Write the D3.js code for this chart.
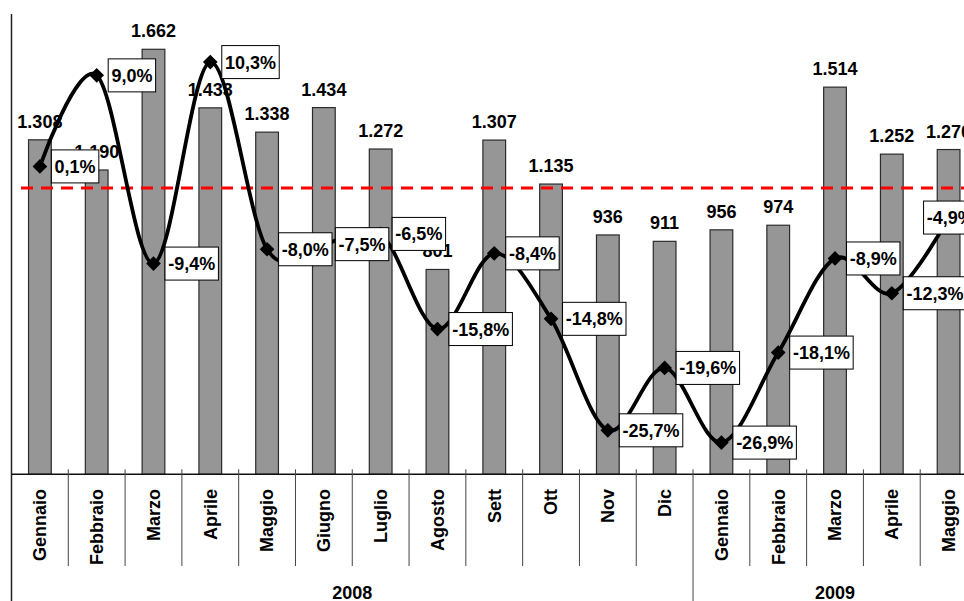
<!DOCTYPE html>
<html lang="it">
<head>
<meta charset="utf-8">
<title>Vendite mensili 2008–2009</title>
<script src="https://cdn.jsdelivr.net/npm/d3@7"></script>
<style>
  html, body { margin: 0; padding: 0; background: #fff; }
  svg { display: block; font-family: "Liberation Sans", Arial, sans-serif; font-weight: bold; }
</style>
</head>
<body>
<svg id="chart" width="964" height="601"></svg>
<script>
// Monthly categories, grouped by year
const months = ["Gennaio", "Febbraio", "Marzo", "Aprile", "Maggio", "Giugno", "Luglio",
                "Agosto", "Sett", "Ott", "Nov", "Dic",
                "Gennaio", "Febbraio", "Marzo", "Aprile", "Maggio"];
const yearLabels = ["2008", "2009"];
const monthsPerYear = [12, 5];

// Monthly volumes (bars, left axis)
const sales = [1308, 1190, 1662, 1433, 1338, 1434, 1272, 801, 1307, 1135, 936, 911,
               956, 974, 1514, 1252, 1270];

// Year-on-year change in % (smoothed line, right axis)
const change = [0.1, 9.0, -9.4, 10.3, -8.0, -7.5, -6.5, -15.8, -8.4, -14.8, -25.7, -19.6,
                -26.9, -18.1, -8.9, -12.3, -4.9];

// Reference level drawn as dashed red line (left axis units)
const referenceLevel = 1120;

// Axis extents
const salesDomain = [0, 1800];
const changeDomain = [-30, 15];

const it = d3.formatLocale({ decimal: ",", thousands: ".", grouping: [3], currency: ["€", ""], minus: "-" });
const fmtSales = it.format(",d");
const fmtPct = v => it.format(".1f")(v) + "%";

const svg = d3.select("#chart");
const plot = { left: 11.5, right: 977, top: 14, bottom: 474.3 };

const x = d3.scaleBand()
  .domain(d3.range(months.length))
  .range([plot.left, plot.right])
  .padding(0);
const step = x.step();
const barW = step * 0.4;
const cx = i => x(i) + step / 2;

const y = d3.scaleLinear().domain(salesDomain).range([plot.bottom, plot.top]);
const y2 = d3.scaleLinear().domain(changeDomain).range([plot.bottom, plot.top]);

// Bars
svg.append("g").selectAll("rect")
  .data(sales)
  .join("rect")
  .attr("x", (d, i) => cx(i) - barW / 2)
  .attr("y", d => y(d))
  .attr("width", barW)
  .attr("height", d => y(0) - y(d))
  .attr("fill", "#969696")
  .attr("stroke", "#2b2b2b")
  .attr("stroke-width", 1.2);

// Bar value labels
svg.append("g").selectAll("text")
  .data(sales)
  .join("text")
  .attr("x", (d, i) => cx(i))
  .attr("y", d => y(d) - 12)
  .attr("text-anchor", "middle")
  .attr("font-size", 18)
  .attr("fill", "#000")
  .text(d => fmtSales(d));

// Dashed reference line
svg.append("line")
  .attr("x1", plot.left + 9.5)
  .attr("x2", plot.right)
  .attr("y1", y(referenceLevel))
  .attr("y2", y(referenceLevel))
  .attr("stroke", "#ff0000")
  .attr("stroke-width", 3)
  .attr("stroke-dasharray", "12,8");

// Axes lines
svg.append("line")
  .attr("x1", plot.left).attr("x2", plot.left)
  .attr("y1", plot.top).attr("y2", 601)
  .attr("stroke", "#222").attr("stroke-width", 1.5);
svg.append("line")
  .attr("x1", plot.left).attr("x2", plot.right)
  .attr("y1", plot.bottom).attr("y2", plot.bottom)
  .attr("stroke", "#111").attr("stroke-width", 1.5);

// Category separators (longer at the year boundary)
const yearStarts = d3.cumsum(monthsPerYear).slice(0, -1);
const separators = d3.range(1, months.length);
svg.append("g").selectAll("line")
  .data(separators)
  .join("line")
  .attr("x1", i => x(i)).attr("x2", i => x(i))
  .attr("y1", plot.bottom - 5)
  .attr("y2", i => yearStarts.includes(i) ? 601 : 566)
  .attr("stroke", "#444")
  .attr("stroke-width", 1);

// Month labels (rotated)
svg.append("g").selectAll("text")
  .data(months)
  .join("text")
  .attr("transform", (d, i) => `translate(${cx(i)},489) rotate(-90)`)
  .attr("dy", "0.35em")
  .attr("text-anchor", "end")
  .attr("font-size", 18)
  .text(d => d);

// Year labels, centred under their months
let start = 0;
const yearGroups = yearLabels.map((label, k) => {
  const g = { label, from: start, to: start + monthsPerYear[k] };
  start += monthsPerYear[k];
  return g;
});
svg.append("g").selectAll("text")
  .data(yearGroups)
  .join("text")
  .attr("x", g => (x(g.from) + x(g.to - 1) + step) / 2)
  .attr("y", 599)
  .attr("text-anchor", "middle")
  .attr("font-size", 18)
  .text(g => g.label);

// Smoothed change line
const line = d3.line()
  .x((d, i) => cx(i))
  .y(d => y2(d))
  .curve(d3.curveCardinal.tension(0));
svg.append("path")
  .datum(change)
  .attr("d", line)
  .attr("fill", "none")
  .attr("stroke", "#000")
  .attr("stroke-width", 3.8);

// Diamond markers
svg.append("g").selectAll("path")
  .data(change)
  .join("path")
  .attr("transform", (d, i) => `translate(${cx(i)},${y2(d)}) rotate(45)`)
  .attr("d", d3.symbol(d3.symbolSquare, 108))
  .attr("fill", "#000");

// Boxed percentage labels
const boxH = 33, padX = 3.2, offsetX = 11.5;
const lbl = svg.append("g").selectAll("g")
  .data(change)
  .join("g");
lbl.append("rect")
  .attr("fill", "#fff")
  .attr("stroke", "#000")
  .attr("stroke-width", 1);
lbl.append("text")
  .attr("font-size", 18)
  .attr("fill", "#000")
  .text(d => fmtPct(d));
lbl.each(function (d, i) {
  const g = d3.select(this);
  const tw = g.select("text").node().getComputedTextLength();
  const bw = tw + 2 * padX;
  const px = cx(i), py = y2(d);
  const bx = Math.min(px + offsetX, plot.right - bw);
  g.select("rect")
    .attr("x", bx).attr("y", py - boxH / 2)
    .attr("width", bw).attr("height", boxH);
  g.select("text")
    .attr("x", bx + padX)
    .attr("y", py + 6.5);
});
</script>
</body>
</html>
